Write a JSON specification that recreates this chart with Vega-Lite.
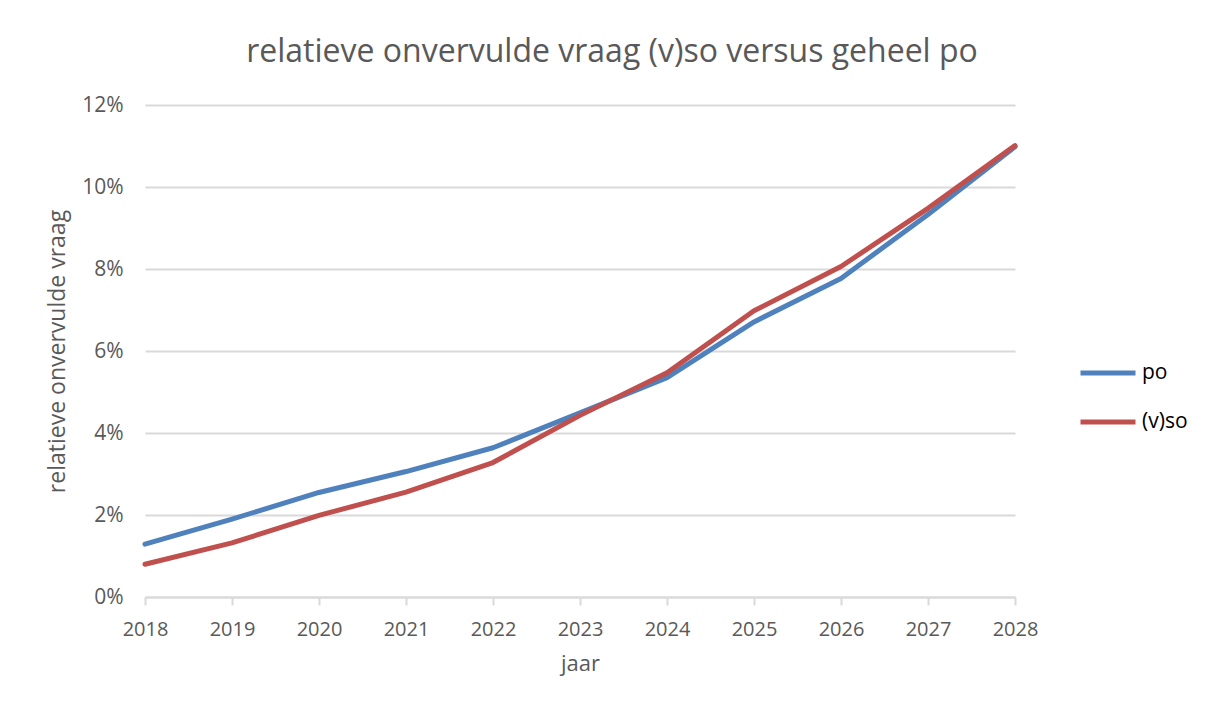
{
  "$schema": "https://vega.github.io/schema/vega-lite/v6.json",
  "autosize": "none",
  "width": 870,
  "height": 492,
  "padding": {"left": 145, "top": 105, "right": 198, "bottom": 111},
  "background": "white",
  "title": {
    "text": "relatieve onvervulde vraag (v)so versus geheel po",
    "font": "Open Sans",
    "fontSize": 32,
    "fontWeight": "normal",
    "color": "#595959",
    "anchor": "middle",
    "frame": "group",
    "dx": 32,
    "offset": 25
  },
  "data": {
    "values": [
      {"jaar": "2018", "reeks": "po", "waarde": 0.0129},
      {"jaar": "2019", "reeks": "po", "waarde": 0.0190},
      {"jaar": "2020", "reeks": "po", "waarde": 0.0255},
      {"jaar": "2021", "reeks": "po", "waarde": 0.0306},
      {"jaar": "2022", "reeks": "po", "waarde": 0.0364},
      {"jaar": "2023", "reeks": "po", "waarde": 0.0449},
      {"jaar": "2024", "reeks": "po", "waarde": 0.0535},
      {"jaar": "2025", "reeks": "po", "waarde": 0.0671},
      {"jaar": "2026", "reeks": "po", "waarde": 0.0777},
      {"jaar": "2027", "reeks": "po", "waarde": 0.0933},
      {"jaar": "2028", "reeks": "po", "waarde": 0.1098},
      {"jaar": "2018", "reeks": "(v)so", "waarde": 0.0080},
      {"jaar": "2019", "reeks": "(v)so", "waarde": 0.0132},
      {"jaar": "2020", "reeks": "(v)so", "waarde": 0.0199},
      {"jaar": "2021", "reeks": "(v)so", "waarde": 0.0256},
      {"jaar": "2022", "reeks": "(v)so", "waarde": 0.0328},
      {"jaar": "2023", "reeks": "(v)so", "waarde": 0.0443},
      {"jaar": "2024", "reeks": "(v)so", "waarde": 0.0547},
      {"jaar": "2025", "reeks": "(v)so", "waarde": 0.0698},
      {"jaar": "2026", "reeks": "(v)so", "waarde": 0.0806},
      {"jaar": "2027", "reeks": "(v)so", "waarde": 0.0948},
      {"jaar": "2028", "reeks": "(v)so", "waarde": 0.1101}
    ]
  },
  "mark": {"type": "line", "strokeWidth": 5, "strokeCap": "round", "strokeJoin": "round"},
  "encoding": {
    "x": {
      "field": "jaar",
      "type": "ordinal",
      "scale": {"type": "point", "padding": 0},
      "sort": null,
      "axis": {
        "title": "jaar",
        "labelAngle": 0,
        "labelFont": "Open Sans",
        "labelFontSize": 20,
        "labelColor": "#595959",
        "labelPadding": 14,
        "titleFont": "Open Sans",
        "titleFontSize": 22,
        "titleFontWeight": "normal",
        "titleColor": "#595959",
        "titlePadding": 14,
        "domainColor": "#d9d9d9",
        "domainWidth": 2,
        "tickColor": "#d9d9d9",
        "tickWidth": 2,
        "tickSize": 8,
        "grid": false
      }
    },
    "y": {
      "field": "waarde",
      "type": "quantitative",
      "scale": {"domain": [0, 0.12]},
      "axis": {
        "title": "relatieve onvervulde vraag",
        "format": ".0%",
        "values": [0, 0.02, 0.04, 0.06, 0.08, 0.1, 0.12],
        "labelFont": "Open Sans",
        "labelFontSize": 21,
        "labelColor": "#595959",
        "labelPadding": 22,
        "titleFont": "Open Sans",
        "titleFontSize": 23,
        "titleFontWeight": "normal",
        "titleColor": "#595959",
        "titlePadding": 12,
        "domain": false,
        "ticks": false,
        "grid": true,
        "gridColor": "#d9d9d9",
        "gridWidth": 2
      }
    },
    "color": {
      "field": "reeks",
      "type": "nominal",
      "sort": ["po", "(v)so"],
      "scale": {"domain": ["po", "(v)so"], "range": ["#4f81bd", "#c0504d"]},
      "legend": {
        "title": null,
        "orient": "none",
        "legendX": 933,
        "legendY": 238,
        "symbolType": "stroke",
        "symbolStrokeWidth": 5,
        "symbolSize": 3025,
        "labelFont": "Open Sans",
        "labelFontSize": 21,
        "labelColor": "#000000",
        "labelOffset": 4,
        "rowPadding": 9
      }
    }
  },
  "config": {"view": {"stroke": null}}
}
